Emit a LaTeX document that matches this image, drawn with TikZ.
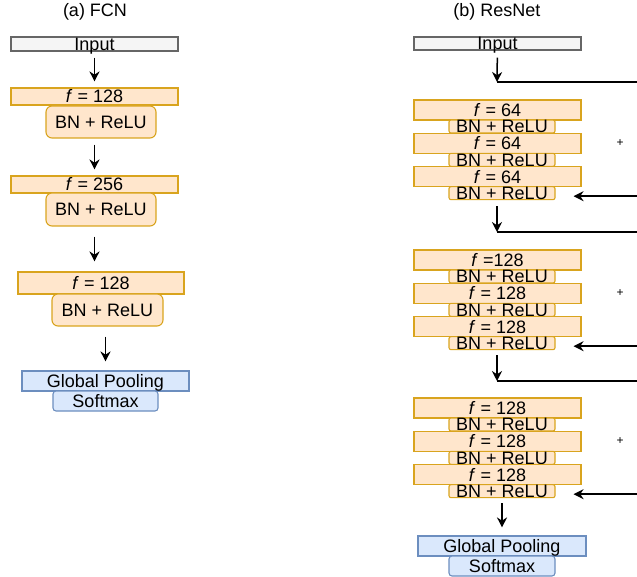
\documentclass[tikz,border=0pt]{standalone}
\usepackage{fontspec}
\setmainfont{Liberation Sans}
\usepackage{tikz}
\usetikzlibrary{
    arrows.meta,
    positioning,
    calc
}
\definecolor{inFill}{HTML}{F5F5F5}
\definecolor{inLine}{HTML}{666666}
\definecolor{convFill}{HTML}{FFE6CC}
\definecolor{convLine}{HTML}{D9A41E}
\definecolor{poolFill}{HTML}{DAE8FC}
\definecolor{poolLine}{HTML}{6C8EBF}
\tikzset{
  box/.style={draw, line width=0.55pt, inner sep=0pt, text height=6.4pt, text depth=0pt,
              font=\fontsize{9}{10}\selectfont},
  inbox/.style={box, fill=inFill, draw=inLine},
  convbox/.style={box, fill=convFill, draw=convLine},
  bnbox/.style={convbox, rounded corners=#1},
  poolbox/.style={box, fill=poolFill, draw=poolLine},
  flow/.style={line width=0.75pt, -{Stealth[length=5pt,width=5pt]}},
  gap/.style={shorten <=3pt, shorten >=3pt}
}

\begin{document}
\begin{tikzpicture}[x=0.5pt,y=-0.5pt]
  \useasboundingbox (0,0) rectangle (637,577);
  % (a) FCN
  \node[font=\fontsize{9}{10}\selectfont] (ta) at (95,12) {(a) FCN};
  \node[inbox, minimum width=83.5pt, minimum height=7pt] (in1) at (94.5,44) {Input};
  \node[convbox, minimum width=83.5pt, minimum height=8.5pt] (f1) at (94.5,96.5) {\textit{f} = 128};
  \node[bnbox=3pt, minimum width=55pt, minimum height=16pt] (bn1) at (101,122) {BN + ReLU};
  \node[convbox, minimum width=83.5pt, minimum height=8.5pt] (f2) at (94.5,184.5) {\textit{f} = 256};
  \node[bnbox=3pt, minimum width=55pt, minimum height=16.5pt] (bn2) at (101,209.5) {BN + ReLU};
  \node[convbox, minimum width=83pt, minimum height=11pt] (f3) at (101,283) {\textit{f} = 128};
  \node[bnbox=3pt, minimum width=55.5pt, minimum height=16pt] (bn3) at (107.5,310) {BN + ReLU};
  \node[poolbox, minimum width=83.5pt, minimum height=10pt] (gp1) at (105.5,381) {Global Pooling};
  \node[poolbox, rounded corners=1.5pt, minimum width=52.5pt, minimum height=10pt] (sm1) at (105.5,401) {Softmax};
  \draw[flow,gap] (in1) -- (f1);
  \draw[flow,gap] (bn1.south -| f2) -- (f2);
  \draw[flow, shorten <=5pt, shorten >=5pt] (bn2.south -| f2) -- (f3.north -| f2);
  \draw[flow, shorten <=5pt, shorten >=4.5pt] (bn3.south -| gp1) -- (gp1);

  % (b) ResNet
  \node[font=\fontsize{9}{10}\selectfont] (tb) at (497,12) {(b) ResNet};
  \node[inbox, minimum width=83.5pt, minimum height=6.5pt] (in2) at (497.5,43.5) {Input};
  \foreach \bl/\yy/\la/\lb/\lc in {1/100/{= 64}/{= 64}/{= 64},2/250/{=128}/{= 128}/{= 128},3/398/{= 128}/{= 128}/{= 128}}
    {\foreach \i/\lab in {0/\la,1/\lb,2/\lc}
       {\node[convbox, minimum width=83.5pt, minimum height=10pt] (b\bl f\i) at (497.5,\yy+10+33.33*\i) {\textit{f} \lab};
        \node[bnbox=1pt, minimum width=53pt, minimum height=6.5pt] (b\bl n\i) at (502,\yy+26.5+33.33*\i) {BN + ReLU};}
     \node[font=\fontsize{6}{7}\selectfont] (plus\bl) at (620,\yy+43) {+};}
  \node[poolbox, minimum width=84pt, minimum height=10pt] (gp2) at (502,546) {Global Pooling};
  \node[poolbox, rounded corners=1.5pt, minimum width=53pt, minimum height=10pt] (sm2) at (502,566) {Softmax};
  % shortcuts
  \foreach \bl/\ys in {1/82,2/232,3/381}
     \coordinate (s\bl) at (497,\ys);
  \coordinate (edge) at (645,0);
  \draw[flow, shorten <=3.5pt] (in2) -- (s1);
  \draw[flow, shorten <=3pt] (b1n2.south -| s2) -- (s2);
  \draw[flow, shorten <=2.5pt] (b2n2.south -| s3) -- (s3);
  \draw[flow, shorten <=2.5pt, shorten >=4pt] (b3n2) -- (gp2);
  \foreach \bl in {1,2,3}
     \draw[flow, shorten >=9pt] (s\bl) -- (s\bl -| edge) |- ([yshift=-1.5pt]b\bl n2.east);
\end{tikzpicture}
\end{document}
